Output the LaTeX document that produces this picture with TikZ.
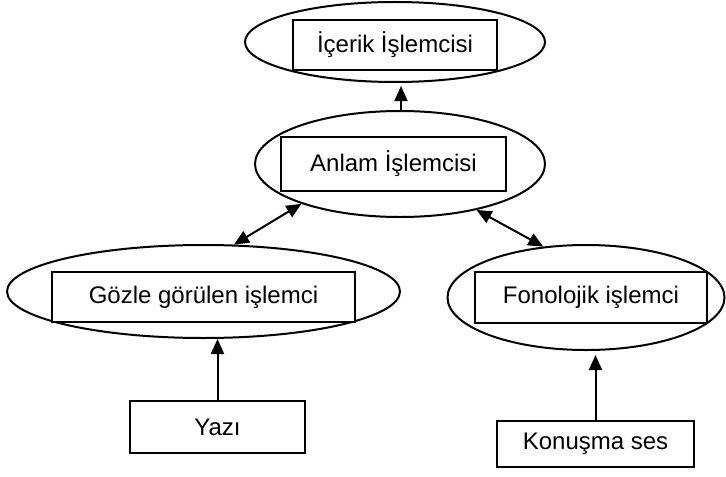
\documentclass[tikz,border=0pt]{standalone}
\usepackage{fontspec}
\setmainfont{Liberation Sans}
\usetikzlibrary{arrows.meta}
\usetikzlibrary{shapes.geometric}

\begin{document}
\begin{tikzpicture}[
     x=0.5pt, y=-0.5pt,
     line width=1pt,
     >={Triangle[width=6.5pt,length=7.5pt]},
     oval/.style={ellipse,draw,inner sep=0pt},
     kutu/.style={rectangle,draw,inner sep=0pt,font=\fontsize{12}{14}\selectfont}
   ]
   \path[use as bounding box] (0,0) rectangle (726,476);
   % Ovals.
   \node[oval,minimum width=150pt,minimum height=40pt] (e1) at (395,42) {};
   \node[oval,minimum width=145pt,minimum height=53pt] (e2) at (400,164) {};
   \node[oval,minimum width=196.5pt,minimum height=46.5pt] (e3) at (203.5,291.5) {};
   \node[oval,minimum width=138.5pt,minimum height=52.5pt] (e4) at (586,297.5) {};
   % Boxes.
   \node[kutu,fill=white,minimum width=102pt,minimum height=25pt] (icerik) at (395,45) {İçerik İşlemcisi};
   \node[kutu,fill=white,minimum width=112.5pt,minimum height=27pt] (anlam) at (393.5,164) {Anlam İşlemcisi};
   \node[kutu,fill=white,minimum width=151.5pt,minimum height=25pt] (gozle) at (203.5,297) {Gözle görülen işlemci};
   \node[kutu,fill=white,minimum width=116pt,minimum height=25.5pt] (fono) at (591,297.5) {Fonolojik işlemci};
   \node[kutu,minimum width=87.5pt,minimum height=26pt] (yazi) at (217.5,427) {Yazı};
   \node[kutu,minimum width=98.5pt,minimum height=23pt] (konusma) at (595.5,444) {Konuşma ses};
   % Arrows.
   \draw[->,shorten >=1.5pt] ([xshift=0.5pt]e2.north) -- ([xshift=0.5pt]e2.north |- e1.south);
   \draw[<->] (e2.202) -- (e3.57);
   \draw[<->] (e2.329) -- (e4.130);
   \draw[->] (yazi.north) -- (yazi.north |- e3.south);
   \draw[->,shorten >=2pt] (konusma.north) -- (konusma.north |- e4.south);
 \end{tikzpicture}
\end{document}
